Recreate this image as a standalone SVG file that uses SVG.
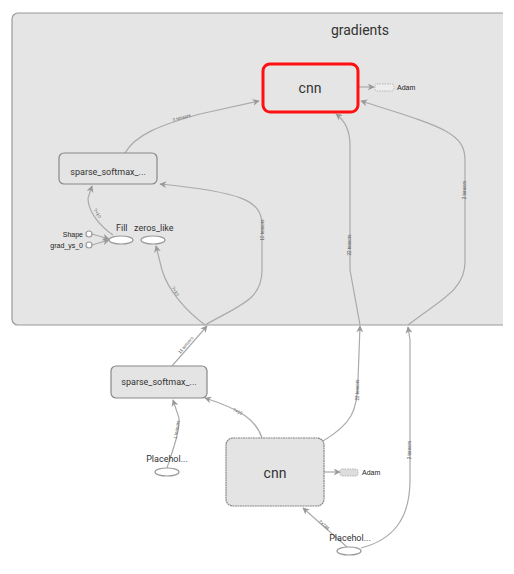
<svg xmlns="http://www.w3.org/2000/svg" width="514" height="574" viewBox="0 0 514 574">
<defs>
<marker id="ah" viewBox="0 0 10 10" refX="9" refY="5" markerWidth="7" markerHeight="7" orient="auto" markerUnits="userSpaceOnUse">
<path d="M0,0 L10,5 L0,10 L3,5 z" fill="#999"/>
</marker>
<clipPath id="clip"><rect x="0" y="0" width="503" height="574"/></clipPath>
</defs>
<style>
.edge{fill:none;stroke:#aaa;stroke-width:1.2}
.el{font-family:"Liberation Sans",Arial,sans-serif;font-size:4.5px;fill:#555}
.lbl{font-family:Roboto,"Liberation Sans",sans-serif;fill:#333}
.node{fill:#e4e4e4;stroke:#888;stroke-width:1.2}
.ell{fill:#fff;stroke:#999;stroke-width:1.2}
.small{font-family:"Liberation Sans",Arial,sans-serif;font-size:7px;fill:#222}
</style>
<rect width="514" height="574" fill="#fff"/>
<g id="gradients" clip-path="url(#clip)">
<rect x="12" y="13" width="560" height="312" rx="6" fill="#e5e5e5" stroke="#999" stroke-width="1.2"/>
<text class="lbl" x="360" y="35" font-size="14" text-anchor="middle">gradients</text>
</g>
<g id="connectors">
<path class="edge" d="M125,153 C135,135 160,125 200,114 L259,101" marker-end="url(#ah)"/>
<text class="el" transform="translate(182,119) rotate(-15)" text-anchor="middle">3 tensors</text>
<path class="edge" d="M113,235 C100,226 88,212 88,198 L92,186" marker-end="url(#ah)"/>
<text class="el" transform="translate(96,214) rotate(60)" text-anchor="middle">?×10</text>
<path class="edge" d="M92,234 L109,239" marker-end="url(#ah)"/>
<path class="edge" d="M92,245 L109,240" marker-end="url(#ah)"/>
<path class="edge" d="M205,325 C185,310 168,290 162,270 L156,246" marker-end="url(#ah)"/>
<text class="el" transform="translate(174,292) rotate(60)" text-anchor="middle">?×10</text>
<path class="edge" d="M205,325 C240,305 262,300 262,270 L262,225 C262,200 240,192 160,184" marker-end="url(#ah)"/>
<text class="el" transform="translate(264,230) rotate(-90)" text-anchor="middle">10 tensors</text>
<path class="edge" d="M172,366 L207,326" marker-end="url(#ah)"/>
<text class="el" transform="translate(187,346) rotate(-50)" text-anchor="middle">11 tensors</text>
<path class="edge" d="M167,468 C172,452 180,432 179,418 L173,400" marker-end="url(#ah)"/>
<text class="el" transform="translate(178,430) rotate(-80)" text-anchor="middle">1 tensors</text>
<path class="edge" d="M262,438 C256,420 242,410 205,398" marker-end="url(#ah)"/>
<text class="el" transform="translate(237,413) rotate(25)" text-anchor="middle">?×10</text>
<path class="edge" d="M323,441 C350,425 358,412 358,380 L360,326" marker-end="url(#ah)"/>
<text class="el" transform="translate(359,390) rotate(-90)" text-anchor="middle">22 tensors</text>
<path class="edge" d="M360,325 L350,270 L350,145 C350,130 344,120 336,114" marker-end="url(#ah)"/>
<text class="el" transform="translate(351,245) rotate(-90)" text-anchor="middle">22 tensors</text>
<path class="edge" d="M361,548 C392,540 410,520 410,480 L410,340 L408,327" marker-end="url(#ah)"/>
<text class="el" transform="translate(411,450) rotate(-90)" text-anchor="middle">2 tensors</text>
<path class="edge" d="M408,325 C440,300 465,290 465,262 L465,160 C465,132 440,126 361,101" marker-end="url(#ah)"/>
<text class="el" transform="translate(466,190) rotate(-90)" text-anchor="middle">2 tensors</text>
<path class="edge" d="M347,547 L303,508" marker-end="url(#ah)"/>
<text class="el" transform="translate(323,526) rotate(42)" text-anchor="middle">?×784</text>
<path class="edge" d="M358,87 L374,87" marker-end="url(#ah)"/>
<path class="edge" d="M324,472 L340,472" marker-end="url(#ah)"/>
</g>
<g id="cnn_grad">
<rect x="263" y="64" width="95" height="48" rx="7" fill="#e5e5e5" stroke="#ff1010" stroke-width="3"/>
<text class="lbl" x="310" y="93" font-size="14" text-anchor="middle">cnn</text>
</g>
<g id="adam_grad">
<rect x="375" y="84" width="19" height="7" rx="2" fill="#eee" stroke="#aaa" stroke-width="0.8" stroke-dasharray="1.5,1"/>
<text class="small" x="397" y="90">Adam</text>
</g>
<g id="sparse_grad">
<rect x="59" y="153" width="98" height="31" rx="5" class="node"/>
<text class="lbl" x="108" y="175" font-size="9" text-anchor="middle">sparse_softmax_...</text>
</g>
<g id="fill">
<ellipse cx="121" cy="240" rx="12" ry="4" class="ell"/>
<text class="lbl" x="116" y="231" font-size="9">Fill</text>
</g>
<g id="zeros_like">
<ellipse cx="153" cy="240" rx="12" ry="4" class="ell"/>
<text class="lbl" x="134" y="231" font-size="9">zeros_like</text>
</g>
<g id="shape">
<circle cx="89" cy="234" r="3" class="ell"/>
<text class="small" x="83" y="237" text-anchor="end">Shape</text>
</g>
<g id="grad_ys_0">
<circle cx="89" cy="245" r="3" class="ell"/>
<text class="small" x="83" y="248" text-anchor="end">grad_ys_0</text>
</g>
<g id="sparse_softmax">
<rect x="111" y="366" width="96" height="32" rx="5" class="node"/>
<text class="lbl" x="159" y="385" font-size="9" text-anchor="middle">sparse_softmax_...</text>
</g>
<g id="placeholder_1">
<ellipse cx="167" cy="472" rx="12" ry="4" class="ell"/>
<text class="lbl" x="167" y="462" font-size="9" text-anchor="middle">Placehol...</text>
</g>
<g id="cnn">
<rect x="226" y="438" width="98" height="68" rx="7" class="node" stroke-dasharray="2,0.5"/>
<text class="lbl" x="275" y="478" font-size="14" text-anchor="middle">cnn</text>
</g>
<g id="adam">
<rect x="340" y="469" width="18" height="7" rx="2" fill="#ddd" stroke="#aaa" stroke-width="0.8" stroke-dasharray="1.5,1"/>
<text class="small" x="362" y="475">Adam</text>
</g>
<g id="placeholder_2">
<ellipse cx="349" cy="551" rx="12" ry="4" class="ell"/>
<text class="lbl" x="350" y="541" font-size="9" text-anchor="middle">Placehol...</text>
</g>
</svg>
